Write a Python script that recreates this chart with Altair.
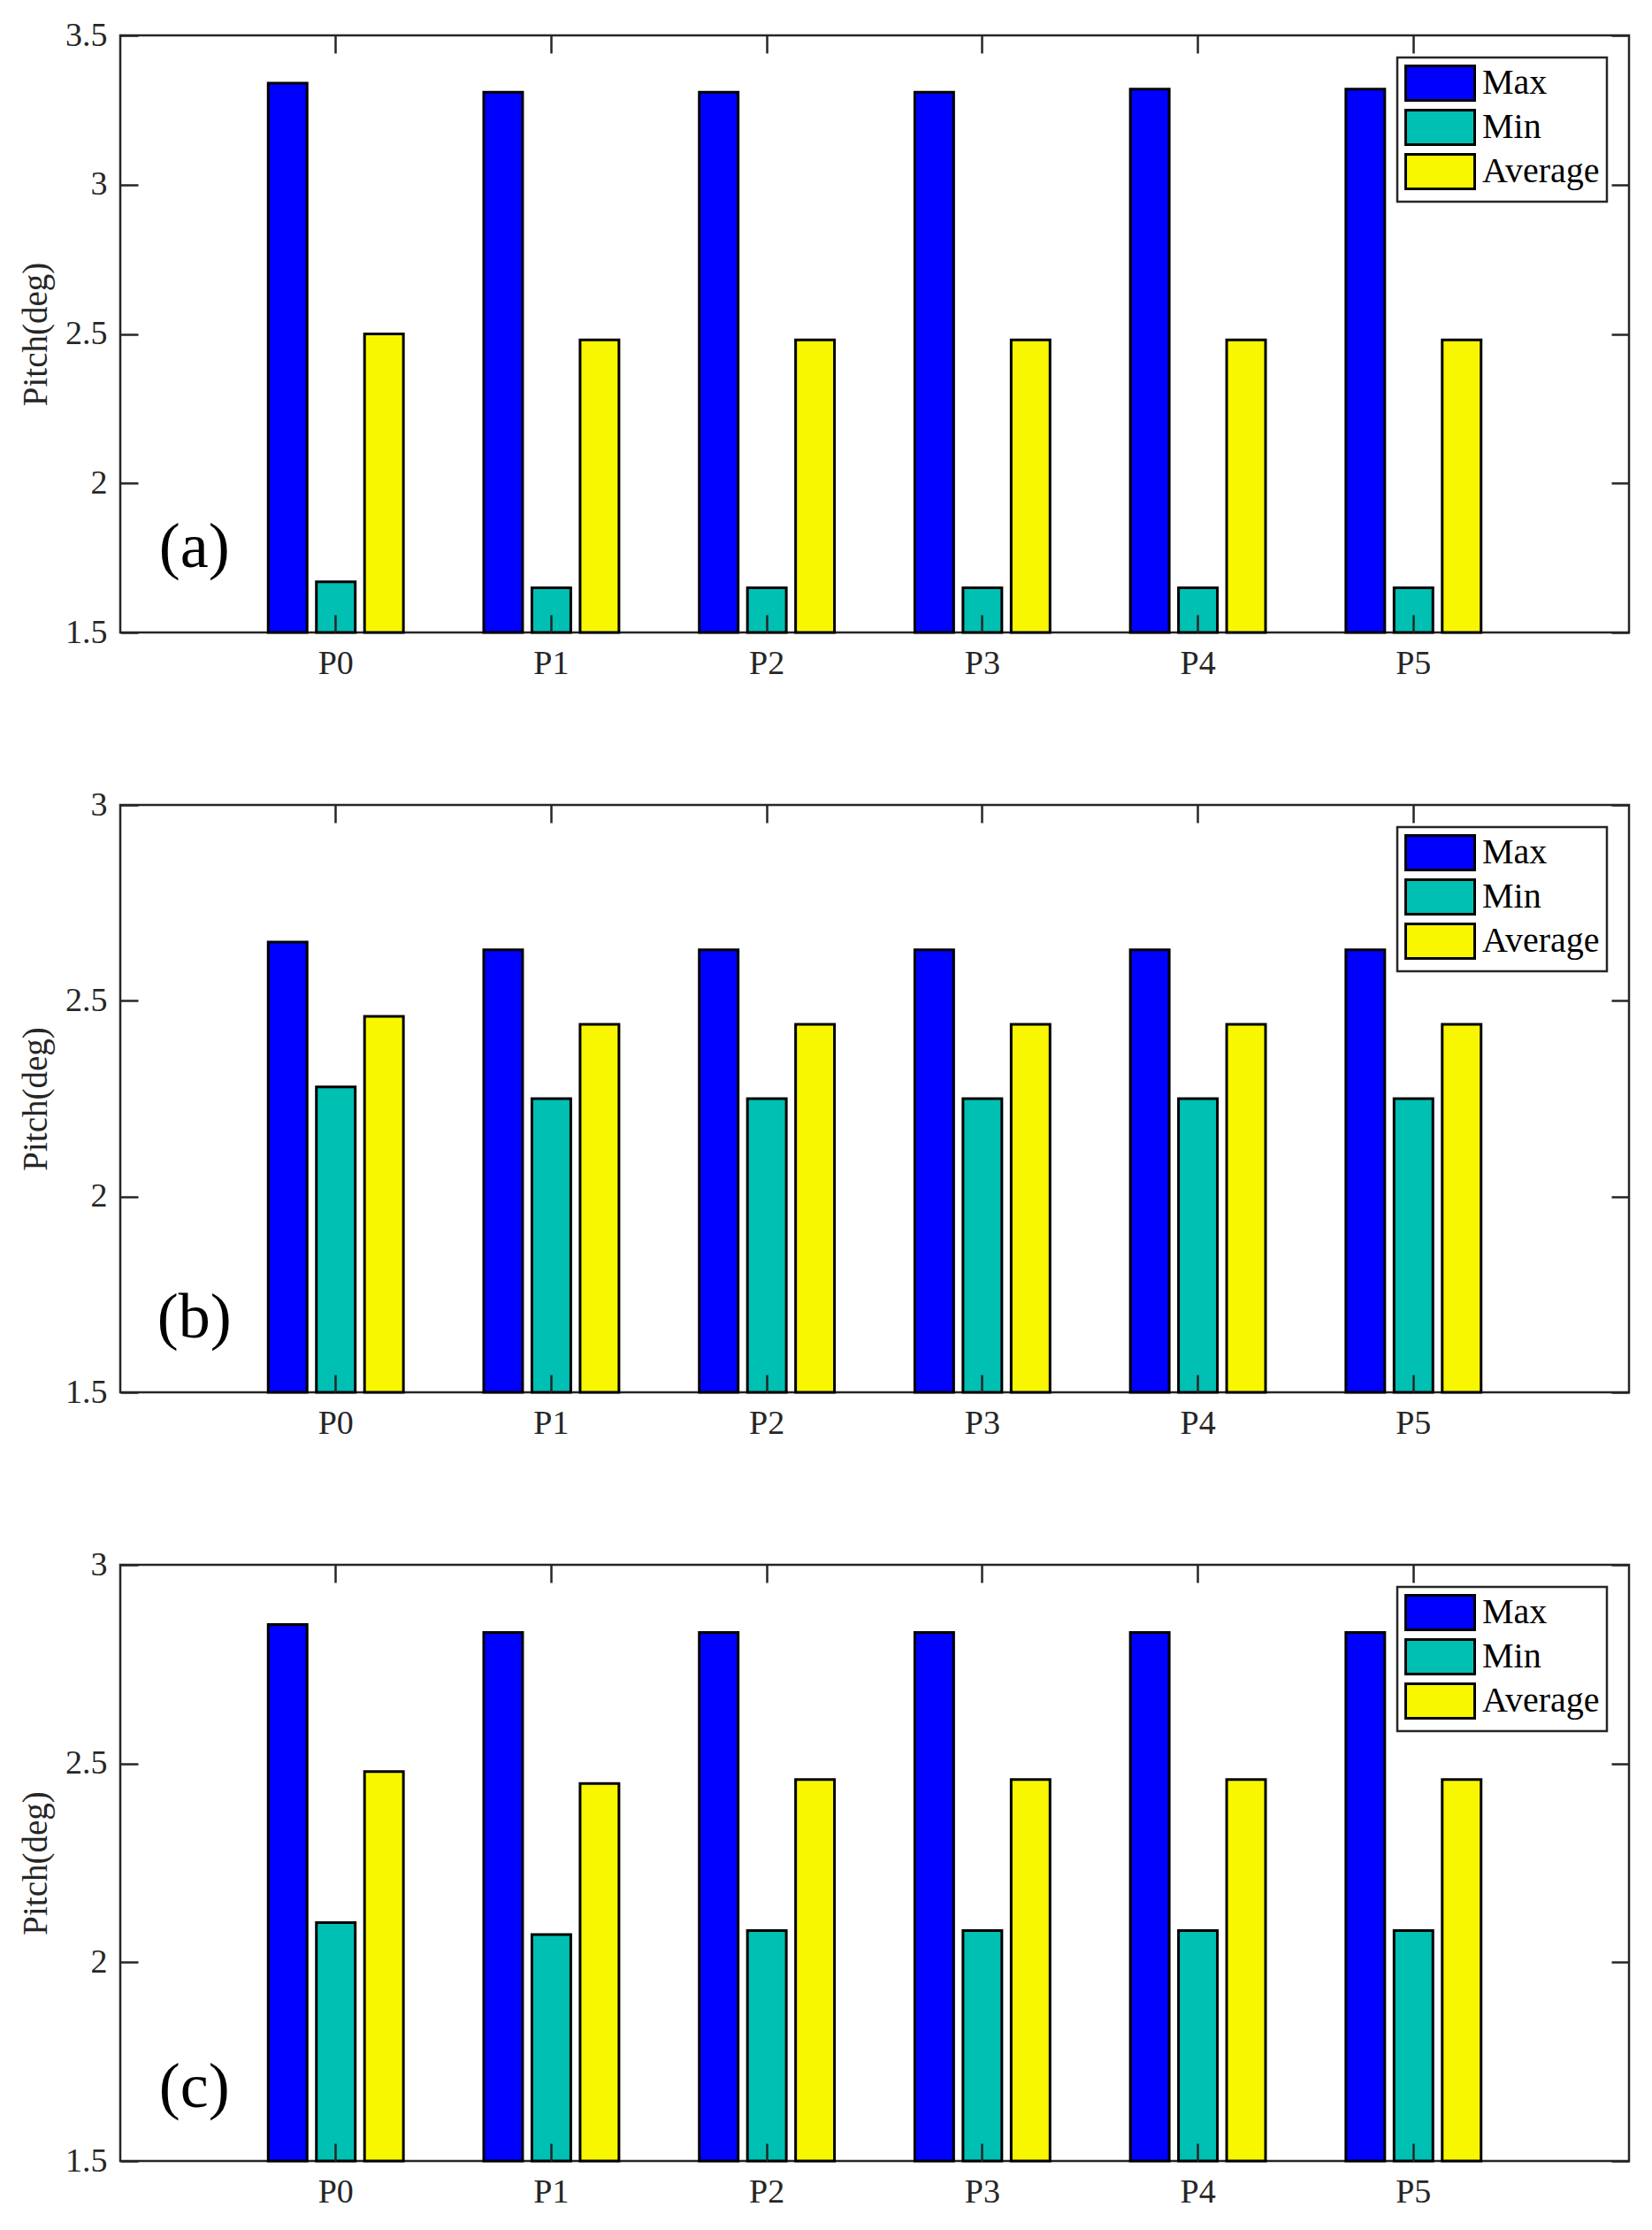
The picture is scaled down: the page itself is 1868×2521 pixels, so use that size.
import altair as alt
import pandas as pd

# categories and series
cats = ["P0", "P1", "P2", "P3", "P4", "P5"]
series_names = ["Max", "Min", "Average"]
series_colors = ["#0000FF", "#00BFB3", "#F9F700"]

# panel (a)
a_max = [3.34, 3.31, 3.31, 3.31, 3.32, 3.32]
a_min = [1.67, 1.65, 1.65, 1.65, 1.65, 1.65]
a_avg = [2.50, 2.48, 2.48, 2.48, 2.48, 2.48]
a_ticks = [1.5, 2, 2.5, 3, 3.5]

# panel (b)
b_max = [2.65, 2.63, 2.63, 2.63, 2.63, 2.63]
b_min = [2.28, 2.25, 2.25, 2.25, 2.25, 2.25]
b_avg = [2.46, 2.44, 2.44, 2.44, 2.44, 2.44]
b_ticks = [1.5, 2, 2.5, 3]

# panel (c)
c_max = [2.85, 2.83, 2.83, 2.83, 2.83, 2.83]
c_min = [2.10, 2.07, 2.08, 2.08, 2.08, 2.08]
c_avg = [2.48, 2.45, 2.46, 2.46, 2.46, 2.46]
c_ticks = [1.5, 2, 2.5, 3]

FONT = "Liberation Serif"
AXIS_COLOR = "#262626"
SYMBOL_PATH = "M-1,-1H3V1H-1Z"  # wide rectangle swatch like the MATLAB legend


def panel(max_v, min_v, avg_v, ticks, tag, tag_y, height):
    df = pd.DataFrame({
        "cat": cats * 3,
        "series": ["Max"] * 6 + ["Min"] * 6 + ["Average"] * 6,
        "value": max_v + min_v + avg_v,
    })
    yscale = alt.Scale(domain=[ticks[0], ticks[-1]], nice=False, zero=False)
    xscale = alt.Scale(paddingInner=0.1, paddingOuter=0.55)

    bars = alt.Chart(df).mark_bar(stroke="black", strokeWidth=3).encode(
        x=alt.X("cat:N", scale=xscale, sort=cats, title=None,
                axis=alt.Axis(orient="bottom", labelAngle=0, tickSize=20, offset=-20,
                              domain=False, labelPadding=16, zindex=1)),
        xOffset=alt.XOffset("series:N", sort=series_names,
                            scale=alt.Scale(paddingInner=0.193, paddingOuter=0.61)),
        y=alt.Y("value:Q", scale=yscale, title="Pitch(deg)",
                axis=alt.Axis(orient="left", values=ticks, format="~g", tickSize=20,
                              offset=-20, domain=False, labelPadding=15,
                              titlePadding=13, zindex=1)),
        y2=alt.datum(ticks[0]),
        color=alt.Color("series:N", sort=series_names,
                        scale=alt.Scale(domain=series_names, range=series_colors),
                        legend=alt.Legend(title=None, orient="top-right", offset=25,
                                          symbolType=SYMBOL_PATH, symbolSize=1521,
                                          symbolStrokeColor="black", symbolStrokeWidth=3,
                                          symbolOpacity=1, labelOffset=46)),
    )

    # invisible layer carrying the top / right tick marks of the box
    ghost = alt.Chart(df).mark_point(opacity=0).encode(
        x=alt.X("cat:N", scale=xscale, sort=cats, title=None,
                axis=alt.Axis(orient="top", labels=False, tickSize=20, offset=-20,
                              domain=False, zindex=1)),
        y=alt.Y("value:Q", scale=yscale, title=None,
                axis=alt.Axis(orient="right", labels=False, values=ticks, tickSize=20,
                              offset=-20, domain=False, zindex=1)),
    )

    label_df = pd.DataFrame({"cat": ["P0"], "value": [tag_y], "tag": [tag]})
    label = alt.Chart(label_df).mark_text(
        font=FONT, fontSize=72, dx=-160, align="center", baseline="alphabetic", color="black"
    ).encode(
        x=alt.X("cat:N", scale=xscale, axis=None),
        y=alt.Y("value:Q", scale=yscale, axis=None),
        text="tag:N",
    )

    return alt.layer(bars, ghost, label).resolve_axis(
        x="independent", y="independent"
    ).properties(width=1706, height=height)


pa = panel(a_max, a_min, a_avg, a_ticks, "(a)", 1.72, 675)
pb = panel(b_max, b_min, b_avg, b_ticks, "(b)", 1.64, 664)
pc = panel(c_max, c_min, c_avg, c_ticks, "(c)", 1.635, 674)

chart = alt.vconcat(pa, pb, pc, spacing=195, bounds="flush").resolve_scale(
    x="independent", y="independent", color="independent"
).resolve_legend(
    color="independent"
).properties(
    padding={"left": 12, "top": 11, "right": 10, "bottom": 10}
).configure_view(
    stroke=AXIS_COLOR, strokeWidth=2.5
).configure_axis(
    grid=False,
    labelFont=FONT, labelFontSize=38, labelColor=AXIS_COLOR,
    tickColor=AXIS_COLOR, tickWidth=2.5,
    titleFont=FONT, titleFontSize=39, titleFontWeight="normal", titleColor=AXIS_COLOR,
).configure_legend(
    labelFont=FONT, labelFontSize=40, labelColor="black",
    strokeColor=AXIS_COLOR, strokeWidth=2.5, fillColor="white",
    padding=8, rowPadding=-2,
)

chart.save("out.html", embed_options={"renderer": "svg", "actions": False})
